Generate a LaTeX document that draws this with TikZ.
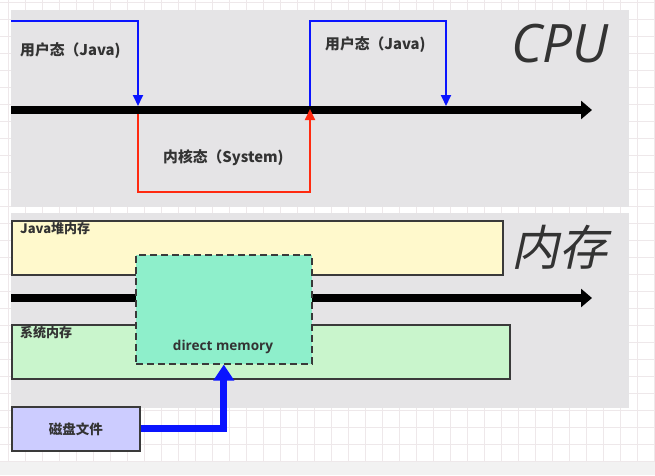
\documentclass[tikz,border=0pt]{standalone}
\usepackage{fontspec}
\setmainfont{Open Sans}
\newfontfamily\cjk{Noto Sans CJK SC}
\newfontfamily\cjkslant[FakeSlant=0.22]{Noto Sans CJK SC}
\usetikzlibrary{arrows.meta}
\definecolor{panel}{HTML}{E5E4E6}
\definecolor{gridc}{HTML}{EEE8EA}
\definecolor{edge}{HTML}{3A3A3A}
\definecolor{txt}{HTML}{333333}
\definecolor{yellowc}{HTML}{FFF9CC}
\definecolor{greenc}{HTML}{C9F5CC}
\definecolor{dmc}{HTML}{8EEFCB}
\definecolor{diskc}{HTML}{CCCCFF}
\definecolor{bluec}{HTML}{0A14FF}
\definecolor{redc}{HTML}{FF2A10}
\tikzset{
  box/.style={draw=edge, line width=1.6pt, anchor=north west, inner sep=0pt},
  lbl/.style={font=\cjk\bfseries\fontsize{14.8}{16}\selectfont, text=txt, inner sep=0pt},
  small/.style={font=\cjk\bfseries\fontsize{13}{15}\selectfont, text=txt, inner sep=0pt},
  bigarrow/.style={line width=7.5pt, -{Triangle[length=11pt,width=18pt]}},
  thin/.style={line width=1.8pt, -{Triangle[length=11pt,width=10pt]}},
}
\begin{document}
\begin{tikzpicture}[x=1pt,y=-1pt]
\useasboundingbox (0,0) rectangle (655,475);
\fill[white] (0,0) rectangle (655,475);
\foreach \i in {0,...,38} {\draw[gridc, line width=0.6pt] ({8+17*\i},0) -- ({8+17*\i},462);}
\foreach \j in {0,...,27} {\draw[gridc, line width=0.6pt] (0,{2+17*\j}) -- (655,{2+17*\j});}
\fill[black!5] (0,462) rectangle (655,475);
% panels
\fill[panel] (11,10) rectangle (629,207);
\fill[panel] (11,213) rectangle (629,408);
% CPU part
\coordinate (a0) at (11,110);
\coordinate (a1) at (592,110);
\draw[bigarrow] (a0) -- (a1);
\coordinate (u1s) at (11,21);
\coordinate (u1c) at (138,21);
\coordinate (u1e) at (138,106);
\draw[thin, bluec] (u1s) -- (u1c) -- (u1e);
\coordinate (k0) at (138,114);
\coordinate (k1) at (138,192);
\coordinate (k2) at (310,192);
\coordinate (k3) at (310,109);
\draw[thin, redc] (k0) -- (k1) -- (k2) -- (k3);
\coordinate (u2s) at (310,106);
\coordinate (u2a) at (310,21);
\coordinate (u2b) at (446,21);
\coordinate (u2e) at (446,106);
\draw[thin, bluec] (u2s) -- (u2a) -- (u2b) -- (u2e);
\node[lbl, anchor=west] (user1) at (20,51) {用户态（Java)};
\node[lbl, anchor=west] (user2) at (325,45) {用户态（Java)};
\node[lbl, anchor=west] (kern) at (163,158) {内核态（System)};
\node[anchor=west, text=txt, font=\itshape\fontsize{53}{54}\selectfont, inner sep=0pt] (cpu) at (511,44) {CPU};
% memory part
\node[box, fill=yellowc, minimum width=491pt, minimum height=54pt] (heap) at (11,220) {};
\node[small, anchor=west] (heapl) at (20,229) {Java堆内存};
\node[box, fill=greenc, minimum width=498pt, minimum height=54pt] (sys) at (11,324) {};
\node[small, anchor=west] (sysl) at (20,333) {系统内存};
\coordinate (m0) at (11,298);
\coordinate (m1) at (592,298);
\draw[bigarrow] (m0) -- (m1);
\node[box, fill=dmc, dashed, dash pattern=on 7pt off 4pt, minimum width=176pt, minimum height=109pt] (dm) at (135,254) {};
\node[lbl, font=\bfseries\fontsize{13.6}{15}\selectfont] (dml) at (223,347) {direct memory};
\node[box, fill=diskc, minimum width=128pt, minimum height=44pt, font=\cjk\bfseries\fontsize{13.5}{15}\selectfont, text=txt] (disk) at (11,406) {磁盘文件};
\draw[line width=7pt, bluec, -{Triangle[length=16pt,width=20pt]}] (disk.east) -| (dm.south);
\node[anchor=west, text=txt, font=\cjkslant\fontsize{48}{50}\selectfont, inner sep=0pt] (mem) at (511,247) {内存};
\end{tikzpicture}
\end{document}
